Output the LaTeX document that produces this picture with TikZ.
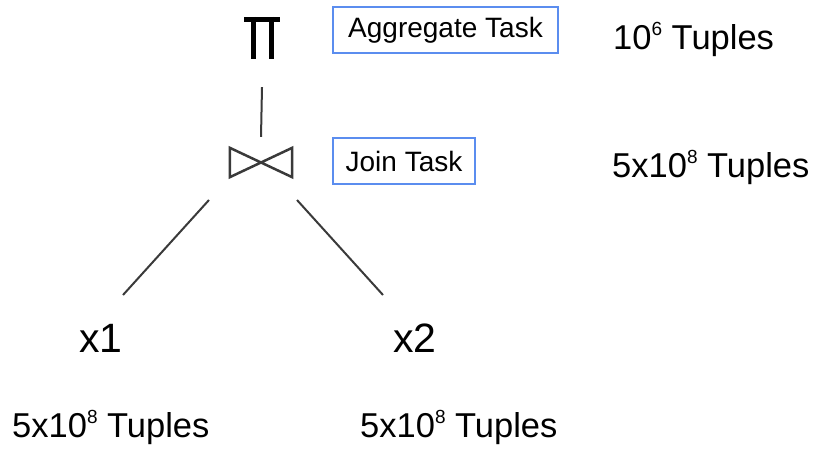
\documentclass[tikz,border=0pt]{standalone}
\usepackage{fontspec}
\setmainfont{Liberation Sans}
\definecolor{taskblue}{HTML}{5B8DEF}
\definecolor{edgegray}{HTML}{3A3A3A}
% raised small exponent used in the tuple counts
\newcommand{\supr}[1]{\raisebox{14pt}{\fontsize{19}{19}\selectfont #1}}
\begin{document}
\begin{tikzpicture}[x=1pt,y=-1pt,
  edge/.style={draw=edgegray, line width=2pt},
  opglyph/.style={draw=none, inner sep=0pt},
  opline/.style={line width=5pt, draw=black},
  bowtie/.style={draw=edgegray, line width=2.5pt, line join=miter},
  taskbox/.style={draw=taskblue, line width=1.8pt, minimum height=46pt, inner sep=0pt, font=\fontsize{28}{32}\selectfont},
  tuples/.style={inner sep=0pt, anchor=base west, font=\fontsize{34.5}{38}\selectfont},
  relname/.style={inner sep=0pt, anchor=base, font=\fontsize{41}{46}\selectfont}]
\useasboundingbox (0,0) rectangle (817,452);

% projection operator (aggregate)
\node[opglyph, minimum width=35pt, minimum height=42pt] (pi) at (262,38) {};
\draw[opline] ([yshift=-2.5pt]pi.north west) -- ([yshift=-2.5pt]pi.north east);
\draw[opline] ([xshift=9pt]pi.north west) -- ([xshift=9pt]pi.south west);
\draw[opline] ([xshift=-8pt]pi.north east) -- ([xshift=-8pt]pi.south east);

% join operator (bowtie)
\node[opglyph, minimum width=62pt, minimum height=29pt] (join) at (261,162.5) {};
\draw[bowtie] (join.north west) -- (join.south west) -- (join.north east) -- (join.south east) -- cycle;

% relations
\node[relname] (x1) at (101,352) {x1};
\node[relname] (x2) at (415,352) {x2};

% tree edges
\draw[edge] ([yshift=-28pt]pi.south) -- ([yshift=11pt]join.north);
\coordinate (join-l) at (209,200);
\coordinate (x1-top) at (123,295);
\coordinate (join-r) at (297,200);
\coordinate (x2-top) at (383,295);
\draw[edge] (join-l) -- (x1-top);
\draw[edge] (join-r) -- (x2-top);

% task labels
\node[taskbox, minimum width=225pt] (agg) at (445.5,30) {Aggregate Task};
\node[taskbox, minimum width=142pt] (jt) at (404,161) {Join Task};

% cardinalities
\node[tuples] (n-pi) at (613,50) {10\supr{6} Tuples};
\node[tuples] (n-join) at (612,177) {5x10\supr{8} Tuples};
\node[tuples] (n-x1) at (12,437) {5x10\supr{8} Tuples};
\node[tuples] (n-x2) at (360,437) {5x10\supr{8} Tuples};
\end{tikzpicture}
\end{document}
